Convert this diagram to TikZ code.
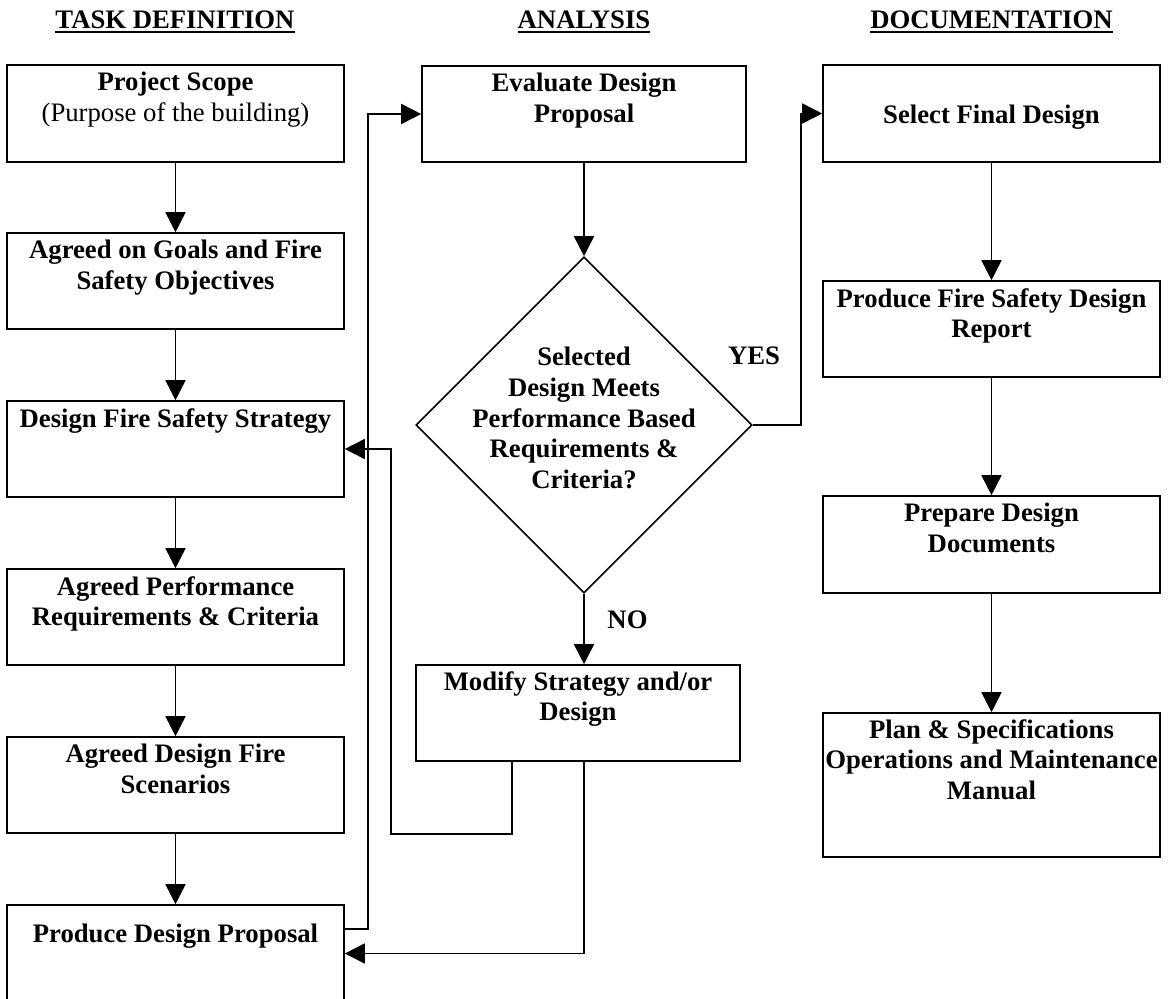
\documentclass[tikz,border=0pt]{standalone}
\usepackage{fontspec}
\setmainfont{Liberation Serif}
\usetikzlibrary{positioning,shapes.geometric,arrows.meta}

\begin{document}
\begin{tikzpicture}[x=1pt, y=-1pt,
  box/.style={draw, line width=1.6pt, rectangle, inner sep=0pt},
  txt/.style={inner sep=0pt, align=center, font=\fontsize{26.7pt}{30.7pt}\selectfont\bfseries},
  arr/.style={line width=1.6pt, -{Triangle[length=20pt, width=20pt]}},
  uline/.style={line width=2.5pt}]%
\useasboundingbox (0,0) rectangle (1168,999);%
% column headings
\node[txt, anchor=base] (htask) at (175,28) {TASK DEFINITION};%
\node[txt, anchor=base] (hanalysis) at (584,28) {ANALYSIS};%
\node[txt, anchor=base] (hdoc) at (991.5,28) {DOCUMENTATION};%
\draw[uline] ([yshift=-4pt]htask.base west) -- ([yshift=-4pt]htask.base east);%
\draw[uline] ([yshift=-4pt]hanalysis.base west) -- ([yshift=-4pt]hanalysis.base east);%
\draw[uline] ([yshift=-4pt]hdoc.base west) -- ([yshift=-4pt]hdoc.base east);%
% task definition
\node[box, minimum width=337pt, minimum height=97pt] (scope) at (175.5,113.5) {};%
\node[txt, below=8pt of scope.north] (scopet) {Project Scope\\\mdseries (Purpose of the building)};%
\node[box, minimum width=337pt, minimum height=96pt] (goals) at (175.5,281) {};%
\node[txt, below=8pt of goals.north] (goalst) {Agreed on Goals and Fire\\Safety Objectives};%
\node[box, minimum width=337pt, minimum height=96pt] (strat) at (175.5,449) {};%
\node[txt, below=8pt of strat.north] (stratt) {Design Fire Safety Strategy};%
\node[box, minimum width=337pt, minimum height=96pt] (perf) at (175.5,617) {};%
\node[txt, below=8pt of perf.north] (perft) {Agreed Performance\\Requirements \& Criteria};%
\node[box, minimum width=337pt, minimum height=96pt] (scen) at (175.5,785) {};%
\node[txt, below=8pt of scen.north] (scent) {Agreed Design Fire\\Scenarios};%
\node[box, minimum width=337pt, minimum height=97pt] (prop) at (175.5,953.5) {};%
\node[txt, below=20pt of prop.north] (propt) {Produce Design Proposal};%
% analysis
\node[box, minimum width=324pt, minimum height=96pt] (eval) at (584,114) {};%
\node[txt, below=8pt of eval.north] (evalt) {Evaluate Design\\Proposal};%
\node[draw, line width=1.6pt, diamond, aspect=1, inner sep=0pt, minimum width=336pt, minimum height=336pt] (dia) at (584,425) {};%
\node[txt] (diat) at (584,418) {Selected\\Design Meets\\Performance Based\\Requirements \&\\Criteria?};%
\node[box, minimum width=324pt, minimum height=96pt] (modify) at (578,713) {};%
\node[txt, below=7pt of modify.north] (modifyt) {Modify Strategy and/or\\Design};%
\node[txt, anchor=base] (yes) at (754,364) {YES};%
\node[txt, anchor=base] (no) at (627.5,628) {NO};%
% documentation
\node[box, minimum width=337pt, minimum height=97pt] (select) at (991.5,113.5) {};%
\node[txt, below=41pt of select.north] (selectt) {Select Final Design};%
\node[box, minimum width=337pt, minimum height=96pt] (report) at (991.5,329) {};%
\node[txt, below=8pt of report.north] (reportt) {Produce Fire Safety Design\\Report};%
\node[box, minimum width=337pt, minimum height=97pt] (docs) at (991.5,544.5) {};%
\node[txt, below=8pt of docs.north] (docst) {Prepare Design\\Documents};%
\node[box, minimum width=337pt, minimum height=144pt] (plan) at (991.5,785) {};%
\node[txt, below=7pt of plan.north] (plant) {Plan \& Specifications\\Operations and Maintenance\\Manual};%
% flow
\draw[arr] (scope.south) -- (goals.north);%
\draw[arr] (goals.south) -- (strat.north);%
\draw[arr] (strat.south) -- (perf.north);%
\draw[arr] (perf.south) -- (scen.north);%
\draw[arr] (scen.south) -- (prop.north);%
\draw[arr] ([yshift=24.5pt]prop.east) -- ++(23,0) |- (eval.west);%
\draw[arr] (eval.south) -- (dia.north);%
\draw[arr] (dia.south) -- (dia.south |- modify.north);%
\draw[arr] (dia.east) -- ++(48,0) |- (select.west);%
\draw[arr] ([xshift=-66pt]modify.south) -- ++(0,72) -- ++(-121,0) |- (strat.east);%
\draw[arr] (modify.south -| dia.south) |- (prop.east);%
\draw[arr] (select.south) -- (report.north);%
\draw[arr] (report.south) -- (docs.north);%
\draw[arr] (docs.south) -- (plan.north);%
\end{tikzpicture}
\end{document}
